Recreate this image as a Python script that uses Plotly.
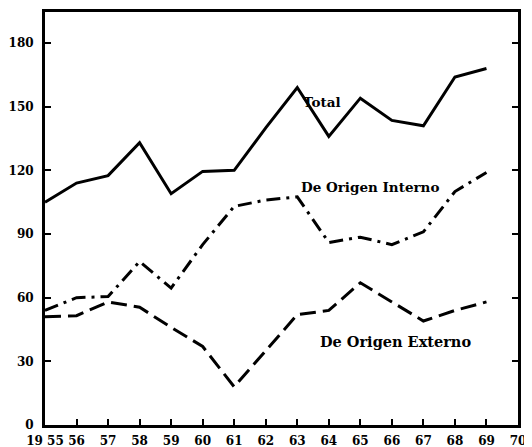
import plotly.graph_objects as go

years = list(range(1955, 1970))
total = [105, 114, 117.5, 133, 109, 119.5, 120, 140, 159, 136, 154, 143.5, 141, 164, 168]
interno = [54, 60, 60.5, 77, 64.5, 85, 103, 106, 107.5, 86, 88.5, 85, 91, 110, 119]
externo = [51, 51.5, 58, 55.5, 46, 37, 18, 35, 52, 54, 67, 58, 49, 54, 58]

xticks = list(range(1955, 1971))
xticktext = ["19 55"] + [str(y)[2:] for y in xticks[1:]]
yticks = [0, 30, 60, 90, 120, 150, 180]

fnt = dict(family="DejaVu Serif", size=12, color="black", weight="bold")
lab = dict(family="DejaVu Serif", size=13.5, color="black", weight="bold")
lab2 = dict(family="DejaVu Serif", size=14.5, color="black", weight="bold")

fig = go.Figure()
fig.add_trace(go.Scatter(x=years, y=total, mode="lines",
                         line=dict(color="black", width=3, dash="solid")))
fig.add_trace(go.Scatter(x=years, y=interno, mode="lines",
                         line=dict(color="black", width=3, dash="14px,6px,3px,6px")))
fig.add_trace(go.Scatter(x=years, y=externo, mode="lines",
                         line=dict(color="black", width=3, dash="16px,7px")))

fig.add_annotation(x=1963.8, y=152, text="Total", showarrow=False, font=lab)
fig.add_annotation(x=1965.3, y=112, text="De Origen Interno", showarrow=False, font=lab)
fig.add_annotation(x=1966.1, y=39.5, text="De Origen Externo", showarrow=False, font=lab2)

fig.update_layout(
    width=524, height=439,
    margin=dict(l=37, r=14, t=4, b=22),
    paper_bgcolor="white", plot_bgcolor="white",
    showlegend=False,
    font=fnt,
)
fig.update_xaxes(range=[1955, 1970], tickvals=xticks, ticktext=xticktext,
                 ticks="inside", ticklen=6, tickwidth=2, tickcolor="black",
                 showline=True, linewidth=3, linecolor="black", mirror=True,
                 showgrid=False, zeroline=False, tickfont=fnt, automargin=False,
                 ticklabelstandoff=3)
fig.update_yaxes(range=[0, 194.6], tickvals=yticks,
                 ticks="inside", ticklen=6, tickwidth=2, tickcolor="black",
                 showline=True, linewidth=3, linecolor="black", mirror="allticks",
                 showgrid=False, zeroline=False, tickfont=fnt, ticklabelstandoff=6,
                 automargin=False)

fig.write_html("out.html")
